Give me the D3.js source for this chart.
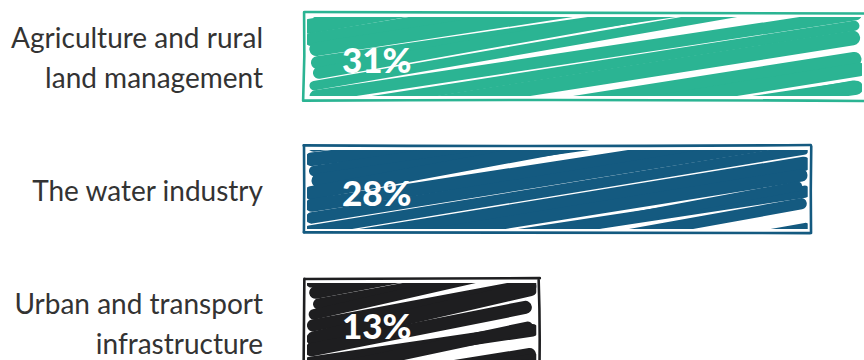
<!DOCTYPE html>
<html><head><meta charset="utf-8">
<script src="https://cdn.jsdelivr.net/npm/d3@7"></script>
<style>body{margin:0;background:#fff}svg{display:block}</style>
</head><body><svg id="c" width="864" height="360"></svg>
<script>
const categories = ["Agriculture and rural land management", "The water industry", "Urban and transport infrastructure"];
const labelLines = [["Agriculture and rural", "land management"], ["The water industry"], ["Urban and transport", "infrastructure"]];
const values = [31, 28, 13];
const valueLabels = ["31%", "28%", "13%"];
const colors = ["#2bb493", "#145a80", "#1e1e20"];

const svg = d3.select("#c");
const x = d3.scaleLinear().domain([0, 31]).range([304, 865]);
const y = d3.scaleBand().domain(categories).range([-10, 389]).paddingInner(0.346).paddingOuter(0.173);

// deterministic hand-drawn jitter (style only)
function noise(i, s) { const v = Math.sin(i * 12.9898 + s * 78.233) * 43758.5453; return v - Math.floor(v); }

const defs = svg.append("defs");

categories.forEach((c, k) => {
  const x0 = x(0), x1 = x(values[k]), y0 = y(c), y1 = y0 + y.bandwidth();
  const W = x1 - x0, H = y1 - y0;
  const col = colors[k];
  const g = svg.append("g");
  defs.append("clipPath").attr("id", "clip" + k).append("rect")
    .attr("x", x0 + 3).attr("y", y0 + 4).attr("width", W - 6).attr("height", H - 8);
  const fg = g.append("g").attr("clip-path", `url(#clip${k})`);
  const slope = 0.13 + 14 / W;
  const step = 12;
  let i = 0;
  for (let cy = y0 + 2; cy < y1 + slope * W + step; cy += step, i++) {
    const s = slope * (1 + (noise(i, k + 1) - 0.5) * 0.45);
    const xa = x0 + 5 + noise(i, k + 11) * 10;
    const xb = x1 - 5 - noise(i, k + 21) * 10;
    const ya = cy - s * (xa - x0) + (noise(i, k + 51) - 0.5) * 4;
    const yb = cy - s * (xb - x0) + (noise(i, k + 61) - 0.5) * 4;
    const w = step * (0.8 + 0.45 * noise(i, k + 31));
    fg.append("path")
      .attr("d", `M${xa},${ya} L${xb},${yb}`)
      .attr("stroke", col).attr("stroke-width", w)
      .attr("stroke-linecap", "round").attr("fill", "none");
  }
  // rough border
  const j = (n) => (noise(n, k + 41) - 0.5) * 2.2;
  const corners = [[x0, y0], [x1, y0], [x1, y1], [x0, y1]];
  corners.forEach((p, n) => {
    const q = corners[(n + 1) % 4];
    const mx = (p[0] + q[0]) / 2 + j(n * 7 + 1), my = (p[1] + q[1]) / 2 + j(n * 7 + 2);
    g.append("path")
      .attr("d", `M${p[0] + j(n * 7 + 3)},${p[1] + j(n * 7 + 4)} Q${mx},${my} ${q[0] + j(n * 7 + 5)},${q[1] + j(n * 7 + 6)}`)
      .attr("stroke", col).attr("stroke-width", 2.6).attr("fill", "none").attr("stroke-linecap", "round");
  });
  // value label
  g.append("text")
    .attr("x", x0 + 38).attr("y", (y0 + y1) / 2 + 2)
    .attr("dominant-baseline", "central")
    .attr("font-family", "Lato, sans-serif").attr("font-weight", 900).attr("font-size", 35)
    .attr("fill", "#fff").text(valueLabels[k]);
  // category label
  const lines = labelLines[k];
  const t = svg.append("text")
    .attr("text-anchor", "end")
    .attr("font-family", "Lato, sans-serif").attr("font-size", 28).attr("fill", "#333");
  lines.forEach((ln, m) => {
    t.append("tspan").attr("x", 263)
      .attr("y", (y0 + y1) / 2 + (m - (lines.length - 1) / 2) * 40)
      .attr("dominant-baseline", "central").text(ln);
  });
});
</script></body></html>
